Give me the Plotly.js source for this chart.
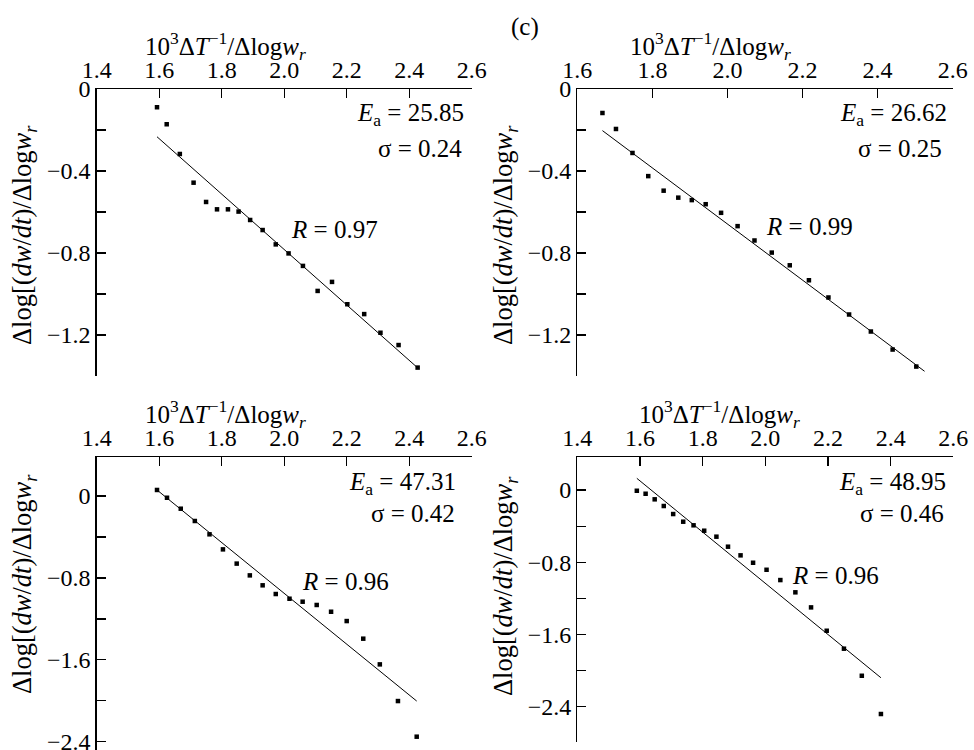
<!DOCTYPE html>
<html>
<head>
<meta charset="utf-8">
<script src="https://cdn.plot.ly/plotly-3.0.1.min.js"></script>
<style>html,body{margin:0;padding:0;background:#fff;}#chart{width:974px;height:750px;}</style>
</head>
<body>
<div id="chart"></div>
<script>
// ---- data ----
const p1X = [1.593,1.624,1.666,1.710,1.750,1.785,1.820,1.854,1.891,1.931,1.973,2.014,2.060,2.107,2.153,2.202,2.256,2.308,2.366,2.427];
const p1Y = [-0.089,-0.172,-0.317,-0.457,-0.551,-0.587,-0.587,-0.598,-0.639,-0.688,-0.758,-0.802,-0.863,-0.985,-0.941,-1.050,-1.098,-1.189,-1.249,-1.359];
const fit1X = [1.593,2.427];
const fit1Y = [-0.233,-1.360];

const p2X = [1.667,1.703,1.747,1.789,1.830,1.869,1.905,1.942,1.983,2.027,2.072,2.118,2.166,2.217,2.269,2.324,2.382,2.440,2.503];
const p2Y = [-0.117,-0.195,-0.312,-0.425,-0.496,-0.530,-0.542,-0.562,-0.604,-0.669,-0.739,-0.798,-0.860,-0.933,-1.017,-1.100,-1.183,-1.271,-1.354];
const fit2X = [1.667,2.525];
const fit2Y = [-0.203,-1.377];

const p3X = [1.593,1.625,1.669,1.714,1.761,1.804,1.848,1.890,1.931,1.973,2.017,2.059,2.104,2.150,2.200,2.253,2.306,2.364,2.424];
const p3Y = [0.059,-0.017,-0.124,-0.244,-0.374,-0.521,-0.660,-0.775,-0.872,-0.957,-1.003,-1.032,-1.064,-1.130,-1.221,-1.393,-1.644,-2.002,-2.350];
const fit3X = [1.593,2.424];
const fit3Y = [0.059,-2.002];

const p4X = [1.590,1.618,1.647,1.676,1.706,1.738,1.771,1.805,1.844,1.881,1.921,1.961,2.004,2.048,2.096,2.146,2.196,2.251,2.308,2.369];
const p4Y = [-0.008,-0.041,-0.103,-0.177,-0.266,-0.351,-0.391,-0.451,-0.517,-0.628,-0.724,-0.806,-0.884,-0.998,-1.134,-1.301,-1.560,-1.759,-2.059,-2.483];
const fit4X = [1.590,2.369];
const fit4Y = [0.130,-2.081];

// tick labels
const xTicksA = [1.4,1.6,1.8,2.0,2.2,2.4,2.6];
const xTextA  = ['1.4','1.6','1.8','2.0','2.2','2.4','2.6'];
const xTicksB = [1.6,1.8,2.0,2.2,2.4,2.6];
const xTextB  = ['1.6','1.8','2.0','2.2','2.4','2.6'];
const yTicksTop = [0,-0.2,-0.4,-0.6,-0.8,-1.0,-1.2,-1.4];
const yTextTop  = ['0','','\u22120.4','','\u22120.8','','\u22121.2',''];
const yTicksBot = [0,-0.4,-0.8,-1.2,-1.6,-2.0,-2.4,-2.8];
const yTextBot  = ['0','','\u22120.8','','\u22121.6','','\u22122.4',''];

// annotation texts
const xTitle = '10<sup>3</sup>\u0394<i>T</i><sup>\u22121</sup>/\u0394log<i>w</i><sub><i>r</i></sub>';
const yTitle = '\u0394log[(<i>dw</i>/<i>dt</i>)/\u0394log<i>w</i><sub><i>r</i></sub>';
const eaText = ['<i>E</i><sub>a</sub> = 25.85','<i>E</i><sub>a</sub> = 26.62','<i>E</i><sub>a</sub> = 47.31','<i>E</i><sub>a</sub> = 48.95'];
const sigText = ['\u03c3 = 0.24','\u03c3 = 0.25','\u03c3 = 0.42','\u03c3 = 0.46'];
const rText = ['<i>R</i> = 0.97','<i>R</i> = 0.99','<i>R</i> = 0.96','<i>R</i> = 0.96'];

// ---- layout helpers ----
const W = 974, H = 750;
const FONT = "'Liberation Serif', 'Times New Roman', serif";
const px = v => v / W;
const py = v => 1 - v / H;

function xAxis(d0, d1, range, tv, tt, anchor) {
  return {domain:[px(d0), px(d1)], range: range, side:'top', anchor: anchor,
    showline:true, linecolor:'#000', linewidth:1.3, mirror:false,
    ticks:'inside', ticklen:9, tickwidth:1.2, tickcolor:'#000',
    tickmode:'array', tickvals: tv, ticktext: tt, ticklabeloverflow:'allow',
    tickfont:{family:FONT, size:24, color:'#000'},
    showgrid:false, zeroline:false, fixedrange:true};
}
function yAxis(top, bot, range, tv, tt, anchor) {
  return {domain:[py(bot), py(top)], range: range, side:'left', anchor: anchor,
    showline:true, linecolor:'#000', linewidth:1.3,
    ticks:'inside', ticklen:9, tickwidth:1.2, tickcolor:'#000',
    tickmode:'array', tickvals: tv, ticktext: tt, ticklabeloverflow:'allow',
    tickfont:{family:FONT, size:24, color:'#000'},
    showgrid:false, zeroline:false, fixedrange:true};
}

const panels = [
  {x:p1X, y:p1Y, fx:fit1X, fy:fit1Y, xa:'x',  ya:'y'},
  {x:p2X, y:p2Y, fx:fit2X, fy:fit2Y, xa:'x2', ya:'y2'},
  {x:p3X, y:p3Y, fx:fit3X, fy:fit3Y, xa:'x3', ya:'y3'},
  {x:p4X, y:p4Y, fx:fit4X, fy:fit4Y, xa:'x4', ya:'y4'}
];

const traces = [];
panels.forEach(p => {
  traces.push({type:'scatter', mode:'lines', x:p.fx, y:p.fy, xaxis:p.xa, yaxis:p.ya,
    line:{color:'#000', width:1}, hoverinfo:'skip', cliponaxis:false});
  traces.push({type:'scatter', mode:'markers', x:p.x, y:p.y, xaxis:p.xa, yaxis:p.ya,
    marker:{symbol:'square', size:4.5, color:'#000'}, cliponaxis:false});
});

const tf = {family:FONT, size:25, color:'#000'};
const tfY = {family:FONT, size:26.5, color:'#000'};
function ann(text, x, y, xanchor, extra) {
  return Object.assign({text:text, xref:'paper', yref:'paper', x:px(x), y:py(y),
    xanchor:xanchor, yanchor:'middle', showarrow:false, font:tf}, extra || {});
}

const annotations = [
  ann('(c)', 525, 27, 'center'),
  // x titles
  ann(xTitle, 225, 46, 'center'),
  ann(xTitle, 710, 46, 'center'),
  ann(xTitle, 225, 414, 'center'),
  ann(xTitle, 719, 414, 'center'),
  // y titles
  ann(yTitle, 24, 235, 'center', {textangle:-90, font:tfY}),
  ann(yTitle, 505, 235, 'center', {textangle:-90, font:tfY}),
  ann(yTitle, 24, 584, 'center', {textangle:-90, font:tfY}),
  ann(yTitle, 505, 586, 'center', {textangle:-90, font:tfY}),
  // Ea
  ann(eaText[0], 466, 115, 'right'),
  ann(eaText[1], 949, 115, 'right'),
  ann(eaText[2], 458, 483, 'right'),
  ann(eaText[3], 948, 483, 'right'),
  // sigma
  ann(sigText[0], 464, 148, 'right'),
  ann(sigText[1], 944, 148, 'right'),
  ann(sigText[2], 457, 513, 'right'),
  ann(sigText[3], 946, 513, 'right'),
  // R
  ann(rText[0], 289, 229, 'left'),
  ann(rText[1], 764, 226, 'left'),
  ann(rText[2], 300, 581, 'left'),
  ann(rText[3], 790, 575, 'left')
];

const layout = {
  width: W, height: H,
  margin:{l:0, r:0, t:0, b:0, pad:0},
  paper_bgcolor:'#fff', plot_bgcolor:'rgba(0,0,0,0)',
  showlegend:false,
  font:{family:FONT, color:'#000'},
  xaxis:  xAxis(96.7, 471.7, [1.4, 2.6], xTicksA, xTextA, 'y'),
  yaxis:  yAxis(89, 376, [-1.4, 0], yTicksTop, yTextTop, 'x'),
  xaxis2: xAxis(577.3, 952.7, [1.6, 2.6], xTicksB, xTextB, 'y2'),
  yaxis2: yAxis(89, 376, [-1.4, 0], yTicksTop, yTextTop, 'x2'),
  xaxis3: xAxis(96.7, 471.7, [1.4, 2.6], xTicksA, xTextA, 'y3'),
  yaxis3: yAxis(457.3, 750, [-2.48, 0.378], yTicksBot, yTextBot, 'x3'),
  xaxis4: xAxis(577.3, 953.3, [1.4, 2.6], xTicksA, xTextA, 'y4'),
  yaxis4: yAxis(457.3, 741.7, [-2.79, 0.363], yTicksBot, yTextBot, 'x4'),
  annotations: annotations
};

Plotly.newPlot('chart', traces, layout, {staticPlot:true, displayModeBar:false});
</script>
</body>
</html>
